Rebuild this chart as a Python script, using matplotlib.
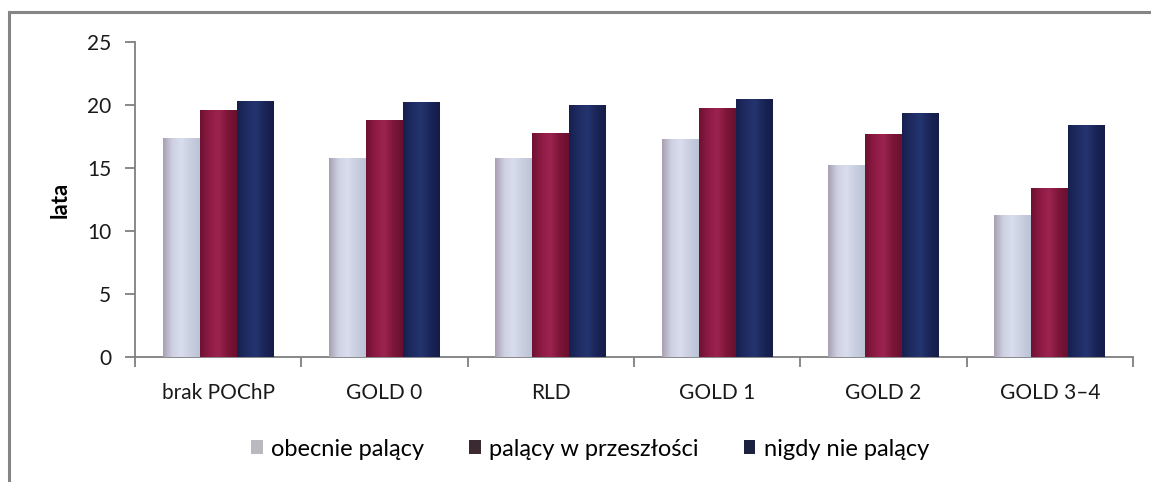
import numpy as np
import matplotlib.pyplot as plt
from matplotlib.patches import Patch, Rectangle
from matplotlib.colors import LinearSegmentedColormap

plt.rcParams['font.family'] = ['Lato', 'DejaVu Sans']

categories = ['brak POChP', 'GOLD 0', 'RLD', 'GOLD 1', 'GOLD 2', 'GOLD 3\u20134']
series_names = ['obecnie palący', 'palący w przeszłości', 'nigdy nie palący']
obecnie = [17.4, 15.8, 15.8, 17.3, 15.2, 11.3]
przeszlosc = [19.6, 18.8, 17.8, 19.8, 17.7, 13.4]
nigdy = [20.3, 20.2, 20.0, 20.5, 19.4, 18.4]
yticks = [0, 5, 10, 15, 20, 25]

# left-to-right shading stops for each series (cylinder look)
shades = [
    ['#a9a0b2', '#cdd1e2', '#d9dded', '#c9cfdf', '#bcc3d6'],
    ['#6e1232', '#8e1a44', '#9c2450', '#7c1638', '#6a1030'],
    ['#16204e', '#1f2b63', '#24356f', '#1a2558', '#141d48'],
]
legend_colors = ['#b9b9bf', '#3b2a31', '#1d2140']

fig = plt.figure(figsize=(11.51, 4.82), dpi=100)
ax = fig.add_axes([135 / 1151, 1 - 357 / 482, (1133 - 135) / 1151, (357 - 42) / 482])

# outer chart frame
fig.patches.append(Rectangle((9 / 1151, -0.1), 1.2, 1 - 12 / 482 + 0.1,
                             transform=fig.transFigure, fill=False,
                             edgecolor='#858585', linewidth=2.2, zorder=0))

x = np.arange(len(categories))
width = 0.222
data = [obecnie, przeszlosc, nigdy]

for i, vals in enumerate(data):
    offs = (i - 1) * width
    bars = ax.bar(x + offs, vals, width, color=shades[i][2], linewidth=0, zorder=2)
    cmap = LinearSegmentedColormap.from_list(f's{i}', shades[i])
    grad = np.linspace(0, 1, 64).reshape(1, -1)
    for b in bars:
        bx, bw, bh = b.get_x(), b.get_width(), b.get_height()
        im = ax.imshow(grad, cmap=cmap, aspect='auto', extent=(bx, bx + bw, 0, bh),
                       interpolation='bicubic', zorder=3)
        im.set_clip_path(b)

ax.set_xlim(-0.5, len(categories) - 0.5)
ax.set_ylim(0, 25)
ax.set_yticks(yticks)
ax.set_xticks(np.arange(len(categories) + 1) - 0.5, minor=True)
ax.set_xticks(x)
ax.set_xticklabels(categories, fontsize=15, color='#1a1a1a')
ax.tick_params(axis='x', which='major', length=0, pad=19)
ax.tick_params(axis='x', which='minor', length=7, direction='out', color='#7f7f7f', width=1.3)
ax.tick_params(axis='y', length=7, direction='out', color='#7f7f7f', width=1.3,
               labelsize=15, labelcolor='#1a1a1a', pad=10)
for s in ['top', 'right']:
    ax.spines[s].set_visible(False)
for s in ['left', 'bottom']:
    ax.spines[s].set_color('#7f7f7f')
    ax.spines[s].set_linewidth(1.3)

ax.set_ylabel('lata', fontsize=16, fontweight='bold', labelpad=12)

handles = [Patch(facecolor=c, edgecolor='none') for c in legend_colors]
fig.legend(handles, series_names, loc='center', bbox_to_anchor=(590 / 1151, 1 - 449 / 482),
           ncol=3, frameon=False, fontsize=17, handlelength=0.5, handleheight=0.5,
           handletextpad=0.35, columnspacing=1.9)

fig.savefig('out.png', dpi=100, facecolor='white')
